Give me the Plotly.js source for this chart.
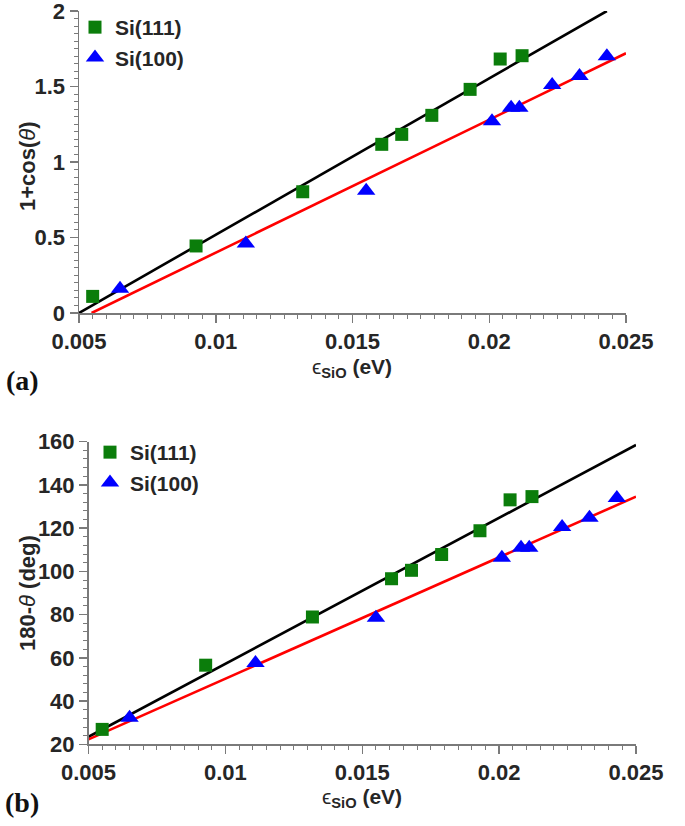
<!DOCTYPE html>
<html>
<head>
<meta charset="utf-8">
<script src="https://cdn.plot.ly/plotly-3.0.1.min.js"></script>
<style>
  html, body { margin: 0; padding: 0; background: #ffffff; }
  #chart { width: 685px; height: 826px; }
</style>
</head>
<body>
<div id="chart"></div>
<script>
// SiO interaction energy (eV) for each sample
const eps111 = [0.0055, 0.00928, 0.01318, 0.01607, 0.0168, 0.0179, 0.0193, 0.0204, 0.0212];
const eps100 = [0.0065, 0.0111, 0.0155, 0.0201, 0.0208, 0.0211, 0.0223, 0.0233, 0.0243];

// 1 + cos(theta)
const cos111 = [0.11, 0.444, 0.803, 1.117, 1.183, 1.309, 1.481, 1.682, 1.704];
const cos100 = [0.16, 0.46, 0.81, 1.27, 1.36, 1.36, 1.51, 1.57, 1.70];

// 180 - theta (deg)
const ang111 = [26.9, 56.6, 78.9, 96.6, 100.5, 107.8, 118.8, 133.1, 134.6];
const ang100 = [32.3, 57.6, 78.6, 106.3, 110.9, 110.9, 120.5, 124.8, 134.0];

// Linear fits (end points)
const fitCos111X = [0.005, 0.0243];
const fitCos111Y = [0.0, 2.0];
const fitCos100X = [0.00546, 0.025];
const fitCos100Y = [0.0, 1.72];
const fitAng111X = [0.005, 0.025];
const fitAng111Y = [23.5, 158.5];
const fitAng100X = [0.005, 0.025];
const fitAng100Y = [22.3, 134.6];

// Tick labels
const epsTicks = [0.005, 0.01, 0.015, 0.02, 0.025];
const epsTickText = ['0.005', '0.01', '0.015', '0.02', '0.025'];
const cosTicks = [0, 0.5, 1, 1.5, 2];
const cosTickText = ['0', '0.5', '1', '1.5', '2'];
const angTicks = [20, 40, 60, 80, 100, 120, 140, 160];
const angTickText = ['20', '40', '60', '80', '100', '120', '140', '160'];

const seriesNames = ['Si(111)', 'Si(100)'];

const W = 685, H = 826;
const GREEN = '#0b7d0b', BLUE = '#0000ff';
const AXIS = '#7a7a7a';
const TXT = '#262626';
const FONT = 'Liberation Sans, Arial, sans-serif';
const SERIF = 'Liberation Serif, Times New Roman, serif';
const bold = s => '<b>' + s + '</b>';

function fitLine(x, y, color, xa, ya) {
  return { x: x, y: y, xaxis: xa, yaxis: ya, mode: 'lines', showlegend: false,
           line: { color: color, width: 2.6 }, cliponaxis: false, hoverinfo: 'skip' };
}
function pts(x, y, name, sym, color, size, xa, ya, leg) {
  return { x: x, y: y, xaxis: xa, yaxis: ya, mode: 'markers', name: bold(name), legend: leg,
           marker: { symbol: sym, color: color, size: size, line: { width: 0 } },
           cliponaxis: false };
}

const traces = [
  fitLine(fitCos111X, fitCos111Y, '#000000', 'x', 'y'),
  fitLine(fitCos100X, fitCos100Y, '#ff0000', 'x', 'y'),
  pts(eps111, cos111, seriesNames[0], 'square', GREEN, 13, 'x', 'y', 'legend'),
  pts(eps100, cos100, seriesNames[1], 'triangle-up', BLUE, 16, 'x', 'y', 'legend'),
  fitLine(fitAng111X, fitAng111Y, '#000000', 'x2', 'y2'),
  fitLine(fitAng100X, fitAng100Y, '#ff0000', 'x2', 'y2'),
  pts(eps111, ang111, seriesNames[0], 'square', GREEN, 13, 'x2', 'y2', 'legend2'),
  pts(eps100, ang100, seriesNames[1], 'triangle-up', BLUE, 16, 'x2', 'y2', 'legend2')
];

const tickFont = { family: FONT, size: 22, color: TXT };

function xAxis(domain, anchor) {
  return {
    domain: domain, anchor: anchor, range: [0.005, 0.025],
    tickvals: epsTicks, ticktext: epsTickText.map(bold),
    ticks: 'outside', ticklen: 8, tickwidth: 1.5, tickcolor: AXIS,
    showline: true, linecolor: AXIS, linewidth: 1.5,
    showgrid: false, zeroline: false, ticklabeloverflow: 'allow',
    minor: { dtick: 0.0005, tick0: 0.005, ticks: 'outside', ticklen: 4, tickwidth: 1, tickcolor: AXIS, showgrid: false },
    tickfont: tickFont
  };
}
function yAxis(domain, anchor, range, vals, text, minorStep) {
  return {
    domain: domain, anchor: anchor, range: range,
    tickvals: vals, ticktext: text.map(bold),
    ticks: 'outside', ticklen: 8, tickwidth: 1.5, tickcolor: AXIS,
    showline: true, linecolor: AXIS, linewidth: 1.5,
    showgrid: false, zeroline: false, ticklabeloverflow: 'allow',
    minor: { dtick: minorStep, tick0: range[0], ticks: 'outside', ticklen: 4, tickwidth: 1, tickcolor: AXIS, showgrid: false },
    tickfont: tickFont
  };
}

const theta = '<span style="font-style:italic;font-weight:normal">θ</span>';
const epsTitle = '<span style="font-weight:normal">ϵ</span><sub>SiO</sub> (eV)';
const titleFont = { family: FONT, size: 22, color: TXT };
const xTitleFont = { family: FONT, size: 21, color: TXT };

function label(text, x, y, angle, font) {
  return { text: text, xref: 'paper', yref: 'paper', x: x / W, y: 1 - y / H,
           xanchor: 'center', yanchor: 'middle', textangle: angle || 0,
           showarrow: false, font: font };
}

const layout = {
  width: W, height: H,
  margin: { l: 0, r: 0, t: 0, b: 0 },
  paper_bgcolor: '#ffffff', plot_bgcolor: '#ffffff',
  showlegend: true,
  xaxis: xAxis([79 / W, 626 / W], 'y'),
  yaxis: yAxis([1 - 313 / H, 1 - 11 / H], 'x', [0, 2], cosTicks, cosTickText, 0.05),
  xaxis2: xAxis([88.5 / W, 636 / W], 'y2'),
  yaxis2: yAxis([1 - 744.3 / H, 1 - 441.7 / H], 'x2', [20, 160], angTicks, angTickText, 4),
  legend: {
    x: 75 / W, y: 1 - 7 / H, xanchor: 'left', yanchor: 'top',
    bgcolor: 'rgba(0,0,0,0)', itemwidth: 30, tracegroupgap: 0,
    font: { family: FONT, size: 21, color: TXT }
  },
  legend2: {
    x: 90 / W, y: 1 - 432 / H, xanchor: 'left', yanchor: 'top',
    bgcolor: 'rgba(0,0,0,0)', itemwidth: 30, tracegroupgap: 0,
    font: { family: FONT, size: 21, color: TXT }
  },
  annotations: [
    label('<b>1+cos(' + theta + ')</b>', 27, 166, -90, titleFont),
    label('<b>180-' + theta + ' (deg)</b>', 27, 593, -90, titleFont),
    label('<b>' + epsTitle + '</b>', 352, 368, 0, xTitleFont),
    label('<b>' + epsTitle + '</b>', 362, 798, 0, xTitleFont),
    label('<b>(a)</b>', 22, 380, 0, { family: SERIF, size: 28, color: '#111' }),
    label('<b>(b)</b>', 22, 802, 0, { family: SERIF, size: 28, color: '#111' })
  ]
};

Plotly.newPlot('chart', traces, layout, { staticPlot: true, displayModeBar: false });
</script>
</body>
</html>
